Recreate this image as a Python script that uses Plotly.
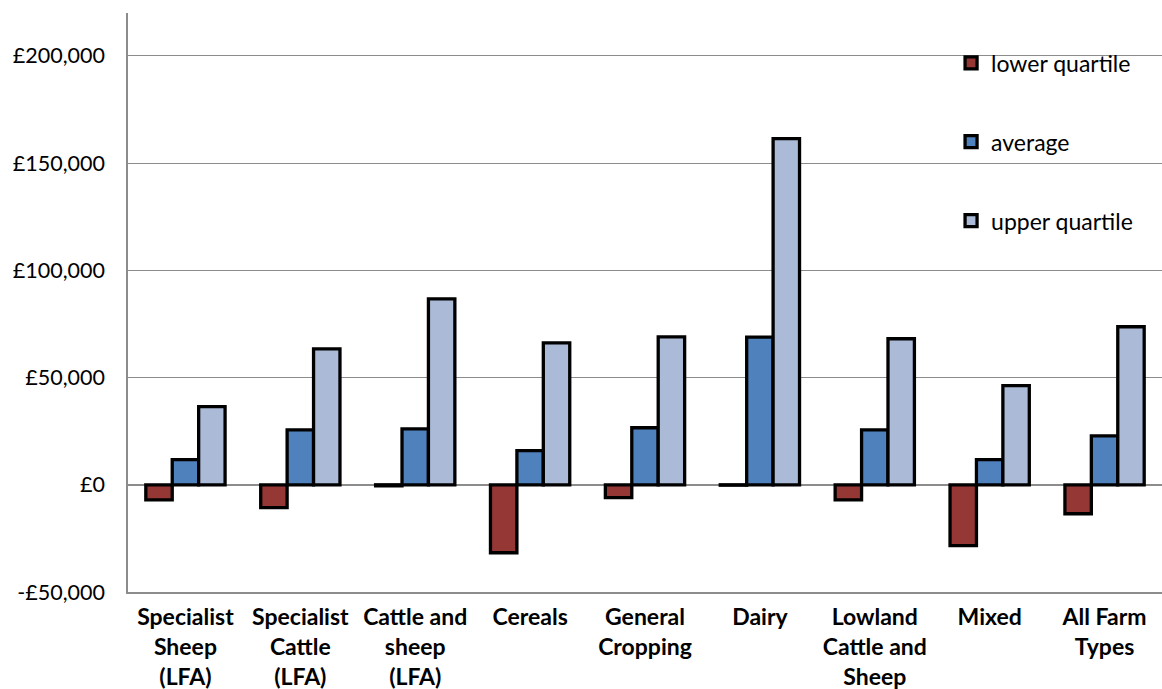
import plotly.graph_objects as go

categories = [
    "Specialist<br>Sheep<br>(LFA)",
    "Specialist<br>Cattle<br>(LFA)",
    "Cattle and<br>sheep<br>(LFA)",
    "Cereals",
    "General<br>Cropping",
    "Dairy",
    "Lowland<br>Cattle and<br>Sheep",
    "Mixed",
    "All Farm<br>Types",
]
lower_quartile = [-7000, -10700, -500, -31700, -6000, -200, -7000, -28400, -13500]
average = [11700, 25600, 26100, 15900, 26600, 68900, 25600, 11700, 22800]
upper_quartile = [36400, 63400, 86700, 66200, 69000, 161400, 68100, 46200, 73700]

series_names = ["lower quartile", "average", "upper quartile"]
series_colors = ["#953735", "#4F81BD", "#AABAD7"]

tick_vals = [-50000, 0, 50000, 100000, 150000, 200000]
tick_text = ["-£50,000", "£0", "£50,000", "£100,000", "£150,000", "£200,000"]

FONT = "Lato"

fig = go.Figure()
for i, (name, vals) in enumerate(zip(series_names, [lower_quartile, average, upper_quartile])):
    fig.add_trace(go.Bar(
        x=categories, y=vals, name=name,
        marker=dict(color=series_colors[i], line=dict(color="black", width=3.3)),
        legendgroup=name,
    ))

fig.update_layout(
    width=1162, height=689,
    margin=dict(l=128, r=0, t=13, b=97),
    plot_bgcolor="white", paper_bgcolor="white",
    barmode="group", bargap=0.31, bargroupgap=0,
    font=dict(family=FONT, size=21, color="black"),
    legend=dict(
        x=0.796, y=0.951, xanchor="left", yanchor="top",
        bgcolor="rgba(0,0,0,0)", tracegroupgap=46,
        font=dict(family=FONT, size=23, color="black"),
        itemwidth=30,
    ),
    showlegend=True,
)
fig.update_xaxes(
    automargin=False,
    showline=True, linecolor="#8c8c8c", linewidth=1.5,
    tickfont=dict(family=FONT, size=23, color="black", weight="bold"),
    ticks="", showgrid=False, ticklabelstandoff=4,
)
fig.update_yaxes(
    automargin=False,
    range=[-50000, 220000],
    tickvals=tick_vals, ticktext=tick_text,
    showgrid=True, gridcolor="#8c8c8c", gridwidth=1.2,
    zeroline=True, zerolinecolor="#8c8c8c", zerolinewidth=1.5,
    showline=True, linecolor="#8c8c8c", linewidth=1.5,
    tickfont=dict(family=FONT, size=21.5, color="black"),
    ticks="", ticklabelstandoff=17,
)

fig.write_html("out.html", config={"displayModeBar": False},
               post_script="document.body.style.margin='0';")
